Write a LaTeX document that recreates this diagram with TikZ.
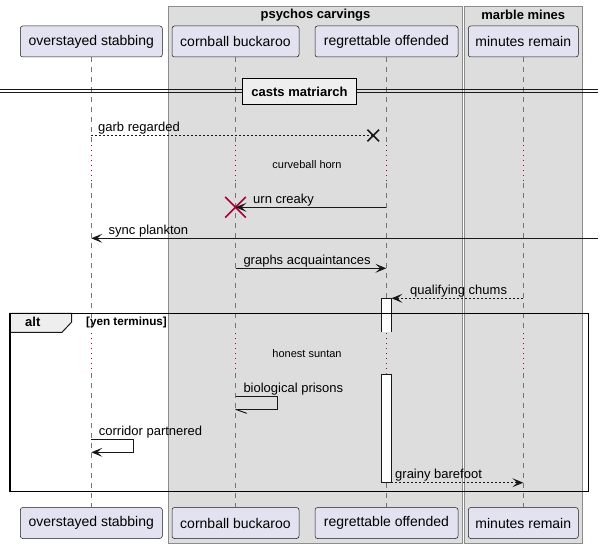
\documentclass[tikz,border=0pt]{standalone}
\usepackage{fontspec}
\setmainfont{Liberation Sans}
\usetikzlibrary{arrows.meta,shapes.misc}
\definecolor{partfill}{HTML}{E2E2F0}
\definecolor{ln}{HTML}{181818}
\definecolor{grpfill}{HTML}{DDDDDD}
\definecolor{grpline}{HTML}{8C8C8C}
\definecolor{delayred}{HTML}{A80036}
\definecolor{tabfill}{HTML}{EEEEEE}
\begin{document}
\begin{tikzpicture}[x=1pt,y=-1pt,
  part/.style={draw=ln, line width=0.5pt, fill=partfill, rounded corners=2.5pt,
    minimum height=31pt, inner sep=0pt, font=\fontsize{14}{16}\selectfont},
  grp/.style={draw=grpline, fill=grpfill, line width=1pt},
  grptitle/.style={font=\fontsize{13}{15}\selectfont\bfseries, inner sep=0pt},
  life/.style={draw=ln!60, dash pattern=on 5pt off 5pt, line width=0.8pt},
  delayline/.style={draw=delayred, dash pattern=on 1pt off 4pt, line width=1pt},
  tip/.style={-{Stealth[length=11pt,width=9pt,inset=5pt]}},
  msg/.style={draw=ln, line width=1pt},
  dmsg/.style={draw=ln, line width=1pt, dash pattern=on 2pt off 2pt},
  lbl/.style={anchor=base west, inner sep=0pt, font=\fontsize{13}{15}\selectfont},
  delaytxt/.style={inner sep=0pt, font=\fontsize{11}{13}\selectfont},
  act/.style={draw=ln, fill=white, line width=1pt},
]
\useasboundingbox (0,0) rectangle (604,548);
% group boxes
\draw[grp] (168.3,6.7) rectangle (462.7,543.3);
\draw[grp] (464,6.7) rectangle (582.7,543.3);
\node[grptitle] (g1t) at (315.5,15) {psychos carvings};
\node[grptitle] (g2t) at (523.3,15) {marble mines};
% delay rows
\coordinate (dA) at (0,145);
\coordinate (dB) at (0,183);
\coordinate (dC) at (0,333);
\coordinate (dD) at (0,373);
% participants
\node[part, minimum width=142pt] (ta) at (91.3,41.5) {overstayed stabbing};
\node[part, minimum width=127pt] (tb) at (235.5,41.5) {cornball buckaroo};
\node[part, minimum width=143pt] (tc) at (386.5,41.5) {regrettable offended};
\node[part, minimum width=110pt] (td) at (523.3,41.5) {minutes remain};
\node[part, minimum width=142pt] (ba) at (91.3,523) {overstayed stabbing};
\node[part, minimum width=127pt] (bb) at (235.5,523) {cornball buckaroo};
\node[part, minimum width=143pt] (bc) at (386.5,523) {regrettable offended};
\node[part, minimum width=110pt] (bd) at (523.3,523) {minutes remain};
% lifelines
\foreach \p in {a,b,c,d} {
  \draw[life] (t\p.south) -- (t\p.south |- dA);
  \draw[delayline] (t\p.south |- dA) -- (t\p.south |- dB);
  \draw[life] (t\p.south |- dB) -- (t\p.south |- dC);
  \draw[delayline] (t\p.south |- dC) -- (t\p.south |- dD);
  \draw[life] (t\p.south |- dD) -- (b\p.north);
}
% divider
\coordinate (dvl1) at (0,89.5);
\coordinate (dvr1) at (598,89.5);
\coordinate (dvl2) at (0,93);
\coordinate (dvr2) at (598,93);
\draw[ln, line width=1pt] (dvl1) -- (dvr1);
\draw[ln, line width=1pt] (dvl2) -- (dvr2);
\node[draw=black, line width=1.5pt, fill=tabfill, minimum width=114pt, minimum height=26pt,
  inner sep=0pt, font=\fontsize{13}{15}\selectfont\bfseries] (div) at (299.5,91.5) {casts matriarch};
% activations
\fill[white] (381.5,298.3) rectangle (391.3,332.3);
\draw[ln, line width=1pt] (381.5,332.3) -- (381.5,298.3) -- (391.3,298.3) -- (391.3,332.3);
\draw[act] (381.5,374) rectangle (391.3,482.7);
% message 1: garb regarded (lost)
\coordinate (m1a) at (91.3,135.5);
\node[cross out, draw=ln, line width=1.6pt, minimum size=10pt, inner sep=0pt] (x1) at (373.3,135.5) {};
\draw[dmsg] (m1a) -- (x1.center);
\node[lbl] (l1) at (98,131.5) {garb regarded};
% delay 1
\node[delaytxt] (dl1) at (307,165) {curveball horn};
% message 2: urn creaky (destroy)
\coordinate (m2a) at (386.3,207.3);
\node[cross out, draw=delayred, line width=1.6pt, minimum size=19pt, inner sep=0pt] (x2) at (235.5,207.3) {};
\draw[msg, tip] (m2a) -- (x2.center);
\node[lbl] (l2) at (253,203.3) {urn creaky};
% message 3: sync plankton
\coordinate (m3a) at (598,238.3);
\coordinate (m3b) at (91.3,238.3);
\draw[msg, tip] (m3a) -- (m3b);
\node[lbl] (l3) at (108.5,234.3) {sync plankton};
% message 4: graphs acquaintances
\coordinate (m4a) at (235.5,268.3);
\coordinate (m4b) at (386.3,268.3);
\draw[msg, tip] (m4a) -- (m4b);
\node[lbl] (l4) at (243.3,264.3) {graphs acquaintances};
% message 5: qualifying chums
\coordinate (m5a) at (523.3,298.3);
\coordinate (m5b) at (391.5,298.3);
\draw[dmsg, tip] (m5a) -- (m5b);
\node[lbl] (l5) at (410,294.3) {qualifying chums};
% delay 2
\node[delaytxt] (dl2) at (307,354) {honest suntan};
% message 6: biological prisons (self)
\coordinate (m6a) at (235.5,396.3);
\coordinate (m6b) at (235.5,409.3);
\coordinate (m6c) at (246.7,413.3);
\draw[msg] (m6a) -- (277,396.3) -- (277,409.3) -- (m6b);
\draw[msg] (m6b) -- (m6c);
\node[lbl] (l6) at (243.3,392.3) {biological prisons};
% message 7: corridor partnered (self)
\coordinate (m7a) at (91.3,439.3);
\coordinate (m7b) at (91.3,452.3);
\draw[msg, tip] (m7a) -- (133.3,439.3) -- (133.3,452.3) -- (m7b);
\node[lbl] (l7) at (98.7,435.3) {corridor partnered};
% message 8: grainy barefoot
\coordinate (m8a) at (391.3,482.7);
\coordinate (m8b) at (523.3,482.7);
\draw[dmsg, tip] (m8a) -- (m8b);
\node[lbl] (l8) at (395,478.7) {grainy barefoot};
% alt frame
\draw[fill=tabfill, draw=ln, line width=1pt] (10,313.3) -- (71.7,313.3) -- (71.7,322) -- (62,332.3) -- (10,332.3) -- cycle;
\draw[draw=black, line width=1.5pt] (10,313.3) rectangle (588.7,491.7);
\node[anchor=base west, inner sep=0pt, font=\fontsize{13}{15}\selectfont\bfseries] (alt) at (25,326.5) {alt};
\node[anchor=base west, inner sep=0pt, font=\fontsize{11.7}{13}\selectfont\bfseries] (guard) at (86,325) {[yen terminus]};
\end{tikzpicture}
\end{document}
